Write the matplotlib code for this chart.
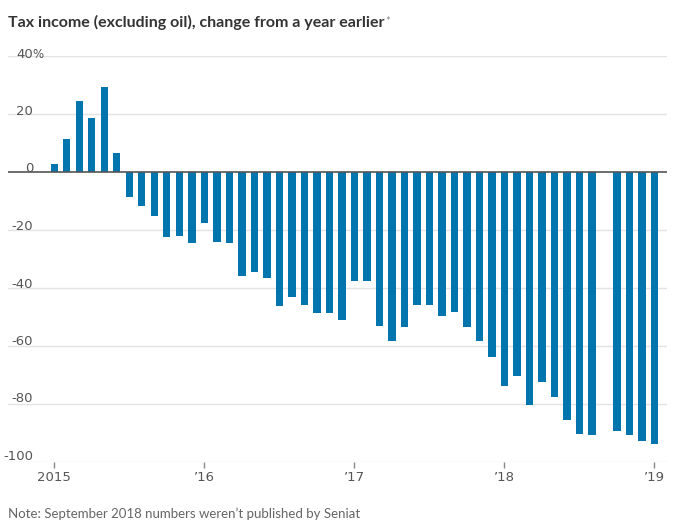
import matplotlib.pyplot as plt

# monthly values, Jan 2015 .. Jan 2019 (Sep 2018 not published -> None)
years = ["2015", "’16", "’17", "’18", "’19"]
vals_2015 = [2.9, 11.2, 24.5, 18.7, 29.3, 6.4, -8.6, -11.9, -15.2, -22.5, -22.1, -24.4]
vals_2016 = [-17.5, -24.1, -24.4, -35.9, -34.7, -36.7, -46.2, -43.2, -45.9, -48.8, -48.8, -51.0]
vals_2017 = [-37.7, -37.7, -53.2, -58.4, -53.6, -45.9, -45.9, -49.6, -48.5, -53.6, -58.4, -63.8]
vals_2018 = [-73.8, -70.4, -80.5, -72.4, -77.6, -85.7, -90.5, -90.8, None, -89.3, -90.8, -92.7]
vals_2019 = [-93.9]
yticks = [40, 20, 0, -20, -40, -60, -80, -100]

values = vals_2015 + vals_2016 + vals_2017 + vals_2018 + vals_2019
idx = [i for i, v in enumerate(values) if v is not None]
heights = [values[i] for i in idx]

W, H = 680, 531
narrow = ["Liberation Sans Narrow", "DejaVu Sans"]
fig = plt.figure(figsize=(W / 100, H / 100), dpi=100)
ax = fig.add_axes([8 / W, 1 - 461.7 / H, (667 - 8) / W, (461.7 - 56) / H])

ax.bar(idx, heights, width=0.59, color="#0274ae", zorder=3)
ax.set_xlim(-3.7, 49.0)
ax.set_ylim(-100, 40)

# gridlines, zero line darker
for y in yticks:
    if y == 0:
        ax.axhline(0, color="#555555", lw=1.2, zorder=4)
    else:
        ax.axhline(y, color="#e3e3e3", lw=1, zorder=1)

for s in ax.spines.values():
    s.set_visible(False)
ax.set_yticks([])
ax.set_xticks([0, 12, 24, 36, 48])
ax.set_xticklabels(years)
ax.tick_params(axis="x", length=4, width=1, color="#888888", labelcolor="#555555",
               labelsize=9.5, pad=3)
for lab in ax.get_xticklabels():
    lab.set_family(narrow)

# y labels sit just above their gridline, right aligned
for y in yticks:
    yf = 1 - (172.5 - y * 2.875 + 3) / H
    fig.text(33 / W, yf, str(y), ha="right", va="bottom", fontsize=9.5,
             color="#555555", family=narrow)
    if y == 40:
        fig.text(32.5 / W, yf, "%", ha="left", va="bottom", fontsize=8.5,
                 color="#555555", family=narrow)

title = fig.text(8 / W, 1 - 27 / H, "Tax income (excluding oil), change from a year earlier",
                 ha="left", va="baseline", fontsize=11.5, fontweight="bold", color="#333333",
                 family=["Lato", "DejaVu Sans"])
fig.text(8 / W, 1 - 518 / H, "Note: September 2018 numbers weren’t published by Seniat",
         ha="left", va="baseline", fontsize=9.5, color="#666666",
         family=["Lato", "DejaVu Sans"])

# small superscript asterisk after the title
fig.canvas.draw()
bb = title.get_window_extent()
fig.text((bb.x1 + 1) / W, (bb.y1 - 1) / H, "*", ha="left", va="top", fontsize=8,
         color="#888888", family=["Lato", "DejaVu Sans"])

fig.savefig("out.png", dpi=100)
